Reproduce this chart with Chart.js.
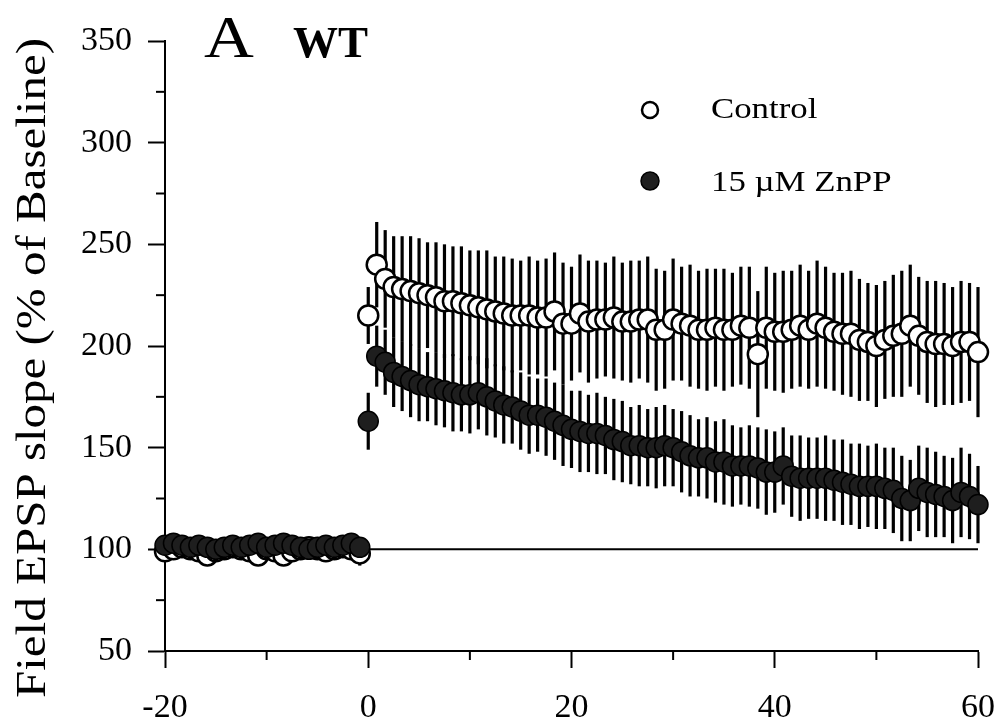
<!DOCTYPE html>
<html>
<head>
<meta charset="utf-8">
<title>Field EPSP slope - WT</title>
<script src="https://cdn.jsdelivr.net/npm/chart.js@4.4.1/dist/chart.umd.min.js"></script>
<style>
  html, body { margin: 0; padding: 0; background: #fff; }
  #wrap { width: 1000px; height: 724px; }
</style>
</head>
<body>
<div id="wrap"><canvas id="ltpChart" width="1000" height="724"></canvas></div>
<script>
// sampling: one averaged point every 50 s
const stepMin = 50 / 60;
const baselineStart = -20;
const postStart = 0;

// baseline (-20 .. 0 min), % of baseline
const ctrlBase = [99, 100, 101, 100, 99, 97, 99, 100, 101, 100, 99, 97, 100, 99, 97, 99, 100, 101, 100, 99, 100, 101, 100, 98];
const ctrlBaseErr = [3, 2, 3, 2, 3, 2, 2, 3, 2, 3, 2, 3, 2, 3, 2, 3, 2, 2, 3, 2, 3, 2, 3, 6];
const znppBase = [102, 103, 102, 101, 102, 101, 100, 101, 102, 101, 102, 103, 101, 102, 103, 102, 101, 100, 101, 102, 101, 102, 103, 101];
const znppBaseErr = [2, 3, 2, 2, 3, 2, 3, 2, 2, 3, 2, 2, 3, 2, 3, 2, 2, 3, 2, 2, 3, 2, 2, 3];

// after tetanus (0 .. 60 min)
const ctrlPost = [
  215, 240, 233, 229, 228, 227, 226, 225, 224, 222,
  222, 221, 220, 219, 218, 217, 216, 215, 215, 215,
  214, 214, 217, 211, 211, 216, 212, 213, 213, 214,
  212, 212, 213, 213, 208, 208, 213, 211, 210, 208,
  208, 209, 208, 208, 210, 209, 196, 209, 207, 207,
  208, 210, 208, 211, 209, 207, 206, 206, 203, 202,
  200, 203, 205, 206, 210, 205, 202, 201, 201, 200,
  202, 202, 197
];
const ctrlPostErr = [
  14, 21, 24, 25, 26, 27, 27, 26, 27, 28,
  27, 28, 27, 28, 29, 27, 28, 28, 27, 29,
  28, 29, 29, 30, 28, 29, 30, 29, 28, 30,
  29, 30, 29, 31, 30, 29, 30, 28, 30, 29,
  30, 29, 30, 28, 29, 30, 31, 30, 29, 30,
  29, 30, 29, 31, 30, 29, 30, 31, 30, 29,
  30, 29, 30, 31, 30, 29, 30, 31, 30, 29,
  30, 29, 32
];
const znppPost = [
  163, 195, 192, 187, 185, 183, 181, 180, 179, 178,
  177, 176, 176, 177, 175, 173, 171, 170, 168, 166,
  166, 165, 163, 161, 159, 158, 157, 157, 156, 154,
  153, 151, 151, 150, 150, 151, 150, 148, 146, 145,
  145, 143, 143, 141, 141, 141, 140, 138, 138, 141,
  136, 135, 135, 135, 135, 134, 133, 132, 131, 131,
  131, 130, 129, 125, 124, 130, 128, 127, 126, 124,
  128, 126, 122
];
const znppPostErr = [
  14, 15, 16, 17, 17, 18, 18, 17, 18, 18,
  19, 18, 19, 18, 19, 18, 19, 18, 19, 19,
  18, 19, 19, 20, 19, 20, 19, 20, 19, 20,
  20, 19, 20, 19, 20, 20, 19, 20, 20, 19,
  20, 20, 21, 20, 19, 20, 20, 21, 20, 19,
  20, 21, 20, 20, 21, 20, 21, 20, 21, 20,
  21, 20, 21, 21, 20, 21, 22, 21, 20, 21,
  22, 21, 19
];

const refLevel = 100;
const xRange = [-20, 60];
const yRange = [50, 350];
const seriesNames = ['Control', '15 \u00B5M ZnPP'];
const panelLabel = 'A';
const panelTag = 'WT';
const yTitle = 'Field EPSP slope (% of Baseline)';

const serif = '"Liberation Serif", "Times New Roman", serif';

function toPoints(start, vals) {
  return vals.map((v, i) => ({ x: start + i * stepMin, y: v }));
}

const ctrlData = toPoints(baselineStart, ctrlBase).concat(toPoints(postStart, ctrlPost));
const ctrlErr = ctrlBaseErr.concat(ctrlPostErr);
const znppData = toPoints(baselineStart, znppBase).concat(toPoints(postStart, znppPost));
const znppErr = znppBaseErr.concat(znppPostErr);

// vertical SEM bars, drawn under the markers
const errorBars = {
  id: 'errorBars',
  beforeDatasetsDraw(chart) {
    const { ctx, scales: { x, y } } = chart;
    ctx.save();
    ctx.strokeStyle = '#000';
    ctx.lineWidth = 3.2;
    chart.data.datasets.forEach(ds => {
      if (!ds.errors) return;
      ds.data.forEach((p, i) => {
        const e = ds.errors[i];
        if (!e) return;
        const px = x.getPixelForValue(p.x);
        ctx.beginPath();
        ctx.moveTo(px, y.getPixelForValue(p.y - e));
        ctx.lineTo(px, y.getPixelForValue(p.y + e));
        ctx.stroke();
      });
    });
    ctx.restore();
  }
};

// short minor ticks between the labelled ones
const minorTicks = {
  id: 'minorTicks',
  afterDraw(chart) {
    const { ctx, scales: { x, y }, chartArea } = chart;
    ctx.save();
    ctx.strokeStyle = '#000';
    ctx.lineWidth = 2;
    for (let v = yRange[0] + 25; v < yRange[1]; v += 50) {
      const py = y.getPixelForValue(v);
      ctx.beginPath();
      ctx.moveTo(chartArea.left - 9, py);
      ctx.lineTo(chartArea.left, py);
      ctx.stroke();
    }
    for (let v = xRange[0] + 10; v < xRange[1]; v += 20) {
      const px = x.getPixelForValue(v);
      ctx.beginPath();
      ctx.moveTo(px, chartArea.bottom);
      ctx.lineTo(px, chartArea.bottom + 9);
      ctx.stroke();
    }
    ctx.restore();
  }
};

function wideText(ctx, text, x, y, font, sx) {
  ctx.save();
  ctx.font = font;
  ctx.translate(x, y);
  ctx.scale(sx, 1);
  ctx.fillText(text, 0, 0);
  ctx.restore();
}

// panel letter, legend and y title
const decorations = {
  id: 'decorations',
  afterDraw(chart) {
    const ctx = chart.ctx;
    ctx.save();
    ctx.fillStyle = '#000';
    ctx.textBaseline = 'alphabetic';
    ctx.textAlign = 'left';
    wideText(ctx, panelLabel, 204, 57, '60px ' + serif, 1.15);
    wideText(ctx, panelTag, 293, 57, 'bold 45px ' + serif, 1.0);

    // legend
    ctx.lineWidth = 2.5;
    ctx.strokeStyle = '#000';
    ctx.beginPath();
    ctx.arc(650, 110, 8, 0, Math.PI * 2);
    ctx.fillStyle = '#fff';
    ctx.fill();
    ctx.stroke();
    ctx.beginPath();
    ctx.arc(650, 181, 9, 0, Math.PI * 2);
    ctx.fillStyle = '#1e1e1e';
    ctx.fill();
    ctx.lineWidth = 1.5;
    ctx.stroke();
    ctx.fillStyle = '#000';
    wideText(ctx, seriesNames[0], 711, 118, '29px ' + serif, 1.2);
    wideText(ctx, seriesNames[1], 711, 191, '29px ' + serif, 1.2);

    // rotated axis title
    ctx.font = '42px ' + serif;
    const w = ctx.measureText(yTitle).width;
    ctx.translate(34, 368);
    ctx.rotate(-Math.PI / 2);
    ctx.scale(660 / w, 1);
    ctx.textAlign = 'center';
    ctx.textBaseline = 'middle';
    ctx.fillText(yTitle, 0, 0);
    ctx.restore();
  }
};

new Chart(document.getElementById('ltpChart'), {
  type: 'scatter',
  data: {
    datasets: [
      {
        label: seriesNames[1],
        data: znppData,
        errors: znppErr,
        pointRadius: 10,
        pointBackgroundColor: '#1e1e1e',
        pointBorderColor: '#000',
        pointBorderWidth: 1.5,
        clip: false
      },
      {
        label: seriesNames[0],
        data: ctrlData,
        errors: ctrlErr,
        pointRadius: 10,
        pointBackgroundColor: '#fff',
        pointBorderColor: '#000',
        pointBorderWidth: 2.5,
        clip: false
      },
      {
        label: 'baseline',
        data: [{ x: xRange[0], y: refLevel }, { x: xRange[1], y: refLevel }],
        showLine: true,
        borderColor: '#000',
        borderWidth: 2,
        pointRadius: 0
      }
    ]
  },
  options: {
    responsive: false,
    animation: false,
    devicePixelRatio: 1,
    layout: { padding: { top: 41, right: 22, left: 0, bottom: 0 } },
    plugins: {
      legend: { display: false },
      tooltip: { enabled: false }
    },
    scales: {
      x: {
        type: 'linear',
        min: xRange[0],
        max: xRange[1],
        afterFit: s => { s.height = 73; s.paddingLeft = 0; s.paddingRight = 0; },
        border: { color: '#000', width: 2 },
        grid: { drawOnChartArea: false, tickLength: 17, tickWidth: 2, tickColor: '#000' },
        ticks: { stepSize: 20, color: '#000', padding: 20, font: { family: serif, size: 34 } }
      },
      y: {
        min: yRange[0],
        max: yRange[1],
        afterFit: s => { s.width = 165; s.paddingTop = 0; s.paddingBottom = 0; },
        border: { color: '#000', width: 2 },
        grid: { drawOnChartArea: false, tickLength: 17, tickWidth: 2, tickColor: '#000' },
        ticks: { stepSize: 50, color: '#000', padding: 16, font: { family: serif, size: 34 } }
      }
    }
  },
  plugins: [errorBars, minorTicks, decorations]
});
</script>
</body>
</html>
